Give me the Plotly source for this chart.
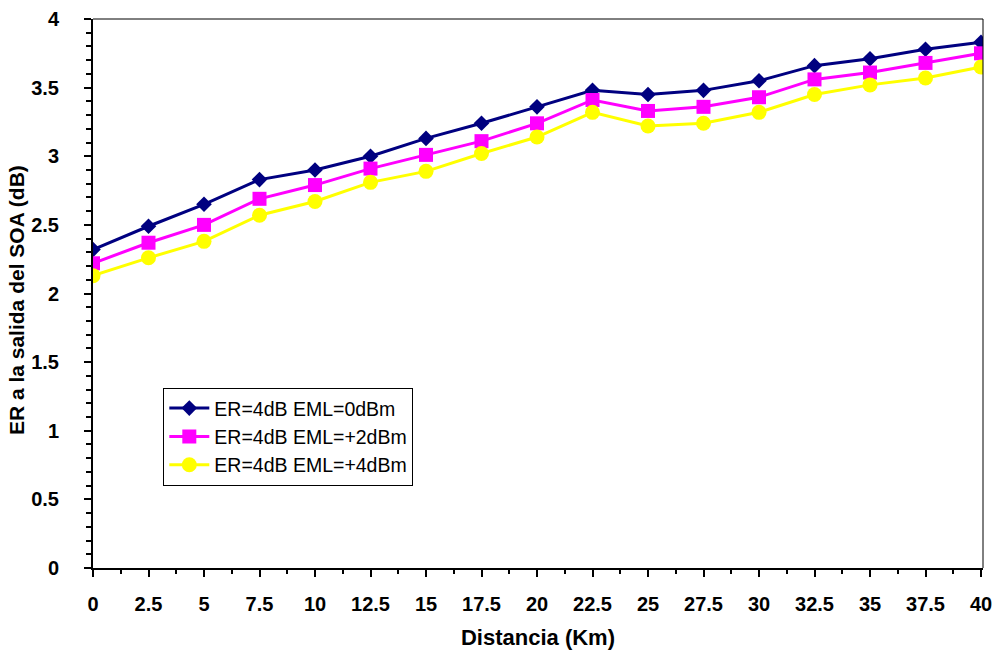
import plotly.graph_objects as go

distancia = [0, 2.5, 5, 7.5, 10, 12.5, 15, 17.5, 20, 22.5, 25, 27.5, 30, 32.5, 35, 37.5, 40]
eml_0dbm = [2.32, 2.49, 2.65, 2.83, 2.90, 3.00, 3.13, 3.24, 3.36, 3.48, 3.45, 3.48, 3.55, 3.66, 3.71, 3.78, 3.83]
eml_2dbm = [2.22, 2.37, 2.50, 2.69, 2.79, 2.91, 3.01, 3.11, 3.24, 3.41, 3.33, 3.36, 3.43, 3.56, 3.61, 3.68, 3.75]
eml_4dbm = [2.13, 2.26, 2.38, 2.57, 2.67, 2.81, 2.89, 3.02, 3.14, 3.32, 3.22, 3.24, 3.32, 3.45, 3.52, 3.57, 3.65]
x_ticks = [0, 2.5, 5, 7.5, 10, 12.5, 15, 17.5, 20, 22.5, 25, 27.5, 30, 32.5, 35, 37.5, 40]
x_ticklabels = ["0", "2.5", "5", "7.5", "10", "12.5", "15", "17.5", "20", "22.5", "25", "27.5", "30", "32.5", "35", "37.5", "40"]
y_ticks = [0, 0.5, 1, 1.5, 2, 2.5, 3, 3.5, 4]
y_ticklabels = ["0", "0.5", "1", "1.5", "2", "2.5", "3", "3.5", "4"]
y_title = "ER a la salida del SOA (dB)"
x_title = "Distancia (Km)"

FONT = "Liberation Sans, Arial, sans-serif"

fig = go.Figure()
fig.add_trace(go.Scatter(
    x=distancia, y=eml_0dbm, name="ER=4dB EML=0dBm", mode="lines+markers",
    line=dict(color="#000080", width=3),
    marker=dict(symbol="diamond", size=12, color="#000080")))
fig.add_trace(go.Scatter(
    x=distancia, y=eml_2dbm, name="ER=4dB EML=+2dBm", mode="lines+markers",
    line=dict(color="#FF00FF", width=3),
    marker=dict(symbol="square", size=14, color="#FF00FF")))
fig.add_trace(go.Scatter(
    x=distancia, y=eml_4dbm, name="ER=4dB EML=+4dBm", mode="lines+markers",
    line=dict(color="#FFFF00", width=3),
    marker=dict(symbol="circle", size=15, color="#FFFF00")))

fig.update_layout(
    width=997, height=651,
    margin=dict(l=93, r=14, t=19, b=83),
    paper_bgcolor="white", plot_bgcolor="white",
    font=dict(family=FONT, color="black"),
    showlegend=True,
    legend=dict(
        x=0.079, y=0.328, xanchor="left", yanchor="top",
        bgcolor="white", bordercolor="black", borderwidth=1,
        font=dict(size=19.5, color="black", family=FONT),
        tracegroupgap=0, itemwidth=40,
    ),
    xaxis=dict(
        range=[0, 40.09], tickmode="array", tickvals=x_ticks, ticktext=x_ticklabels,
        showgrid=False, zeroline=False, automargin=False,
        showline=True, linecolor="black", linewidth=2,
        ticks="outside", ticklen=7, tickwidth=2, tickcolor="black",
        ticklabelstandoff=10,
        tickfont=dict(size=20, family=FONT, weight="bold"),
        minor=dict(dtick=1.25, tick0=0, ticks="outside", ticklen=4, tickwidth=2, tickcolor="black"),
        title=dict(text=x_title, font=dict(size=22, weight="bold", family=FONT), standoff=16),
    ),
    yaxis=dict(
        range=[0, 4], tickmode="array", tickvals=y_ticks, ticktext=y_ticklabels,
        showgrid=False, zeroline=False, automargin=False,
        showline=True, linecolor="black", linewidth=2,
        ticks="outside", ticklen=7, tickwidth=2, tickcolor="black",
        ticklabelstandoff=21,
        tickfont=dict(size=20, family=FONT, weight="bold"),
        minor=dict(dtick=0.1, tick0=0, ticks="outside", ticklen=5, tickwidth=2, tickcolor="black"),
    ),
    annotations=[
        dict(text=y_title, xref="paper", yref="paper", x=-0.0865, y=0.488,
             xanchor="center", yanchor="middle", textangle=-90, showarrow=False,
             font=dict(size=21, weight="bold", family=FONT, color="black")),
    ],
    shapes=[
        dict(type="line", xref="paper", yref="paper", x0=0, x1=1, y0=1, y1=1,
             line=dict(color="black", width=1)),
        dict(type="line", xref="paper", yref="paper", x0=1, x1=1, y0=0, y1=1,
             line=dict(color="black", width=1)),
    ],
)

fig.write_html("out.html", config={"displayModeBar": False},
               post_script="document.body.style.margin='0';document.body.style.padding='0';")
